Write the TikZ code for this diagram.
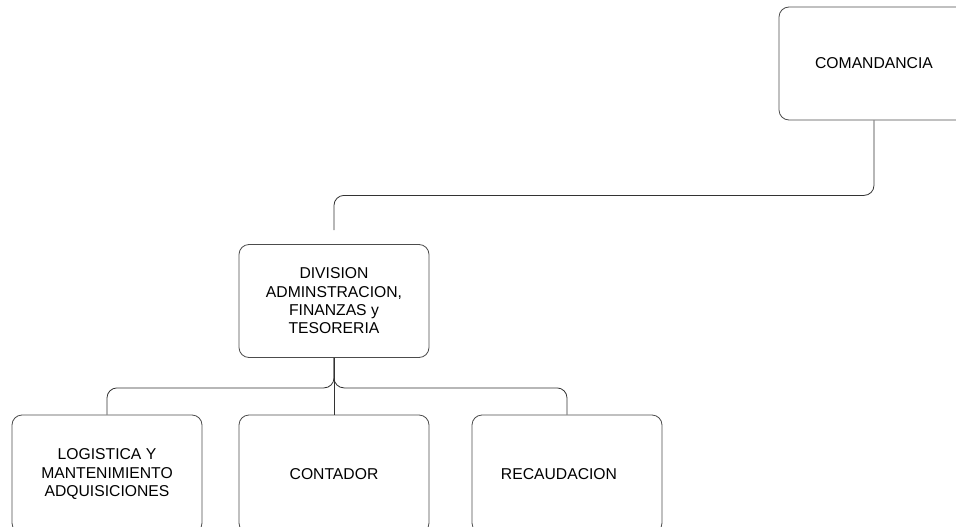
\documentclass[tikz,border=0pt]{standalone}
\usepackage{fontspec}
\setmainfont{Liberation Sans}
\usepackage{tikz}
\usetikzlibrary{positioning}

\tikzset{
  unitbox/.style={draw=black!70, line width=0.8pt, rounded corners=10pt,
    minimum width=190pt, minimum height=113pt, inner sep=0pt, align=center,
    font=\fontsize{15.7}{18.3}\selectfont},
  lowbox/.style={unitbox, minimum height=118pt},
  link/.style={draw=black!80, line width=0.8pt, rounded corners=10pt}
}

\begin{document}
\begin{tikzpicture}[x=1pt, y=-1pt]
  \useasboundingbox (0,0) rectangle (956,527);

  % Units
  \node[unitbox] (comandancia) at (874,63.5) {COMANDANCIA};
  \node[unitbox] (division) at (334,301) {DIVISION\\ADMINSTRACION,\\FINANZAS y\\TESORERIA};

  \node[lowbox] (logistica) at (107,474) {LOGISTICA Y\\MANTENIMIENTO\\ADQUISICIONES};
  \node[lowbox] (contador) at (334,474) {CONTADOR};
  \node[lowbox] (recaudacion) at (567,474) {RECAUDACION\hspace*{16pt}};

  % Links
  \draw[link, shorten >=14pt] (comandancia.south) -- ++(0,75) -| (division.north);
  \draw[link] (division.south) -- ++(0,30) -| (logistica.north);
  \draw[link] (division.south) -- (contador.north);
  \draw[link] (division.south) -- ++(0,30) -| (recaudacion.north);
\end{tikzpicture}
\end{document}
